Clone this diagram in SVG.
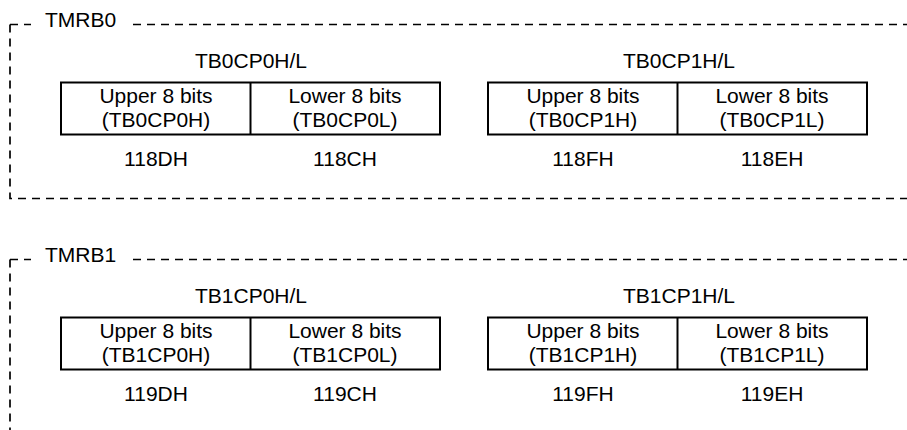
<svg xmlns="http://www.w3.org/2000/svg" width="907" height="430" viewBox="0 0 907 430">
<style>
text{font-family:"Liberation Sans",Arial,sans-serif;font-size:21px;fill:#000}
.c{text-anchor:middle}
.dash{fill:none;stroke:#000;stroke-width:1.7;stroke-dasharray:8 6}
.reg{fill:#fff;stroke:#000;stroke-width:2}
</style>
<rect width="907" height="430" fill="#fff"/>
<g id="connectors"></g>
<g id="tmrb0">
<path class="dash" d="M10 24.5H31"/>
<path class="dash" d="M133 24.5H907"/>
<path class="dash" d="M10 24.5V198.5H907"/>
<text x="45" y="27">TMRB0</text>
<g id="tb0cp0">
<text class="c" x="251" y="68">TB0CP0H/L</text>
<rect class="reg" x="61" y="82.5" width="379" height="52"/>
<line x1="250.5" y1="82.5" x2="250.5" y2="134.5" stroke="#000" stroke-width="2"/>
<text class="c" x="156" y="103">Upper 8 bits</text>
<text class="c" x="156" y="127">(TB0CP0H)</text>
<text class="c" x="345" y="103">Lower 8 bits</text>
<text class="c" x="345" y="127">(TB0CP0L)</text>
<text class="c" x="156" y="166">118DH</text>
<text class="c" x="345" y="166">118CH</text>
</g>
<g id="tb0cp1">
<text class="c" x="679" y="68">TB0CP1H/L</text>
<rect class="reg" x="488" y="82.5" width="379" height="52"/>
<line x1="677.5" y1="82.5" x2="677.5" y2="134.5" stroke="#000" stroke-width="2"/>
<text class="c" x="583" y="103">Upper 8 bits</text>
<text class="c" x="583" y="127">(TB0CP1H)</text>
<text class="c" x="772" y="103">Lower 8 bits</text>
<text class="c" x="772" y="127">(TB0CP1L)</text>
<text class="c" x="583" y="166">118FH</text>
<text class="c" x="772" y="166">118EH</text>
</g>
</g>
<g id="tmrb1" transform="translate(0,235)">
<path class="dash" d="M10 24.5H31"/>
<path class="dash" d="M133 24.5H907"/>
<path class="dash" d="M10 24.5V198.5H907"/>
<text x="45" y="27">TMRB1</text>
<g id="tb1cp0">
<text class="c" x="251" y="68">TB1CP0H/L</text>
<rect class="reg" x="61" y="82.5" width="379" height="52"/>
<line x1="250.5" y1="82.5" x2="250.5" y2="134.5" stroke="#000" stroke-width="2"/>
<text class="c" x="156" y="103">Upper 8 bits</text>
<text class="c" x="156" y="127">(TB1CP0H)</text>
<text class="c" x="345" y="103">Lower 8 bits</text>
<text class="c" x="345" y="127">(TB1CP0L)</text>
<text class="c" x="156" y="166">119DH</text>
<text class="c" x="345" y="166">119CH</text>
</g>
<g id="tb1cp1">
<text class="c" x="679" y="68">TB1CP1H/L</text>
<rect class="reg" x="488" y="82.5" width="379" height="52"/>
<line x1="677.5" y1="82.5" x2="677.5" y2="134.5" stroke="#000" stroke-width="2"/>
<text class="c" x="583" y="103">Upper 8 bits</text>
<text class="c" x="583" y="127">(TB1CP1H)</text>
<text class="c" x="772" y="103">Lower 8 bits</text>
<text class="c" x="772" y="127">(TB1CP1L)</text>
<text class="c" x="583" y="166">119FH</text>
<text class="c" x="772" y="166">119EH</text>
</g>
</g>
</svg>
